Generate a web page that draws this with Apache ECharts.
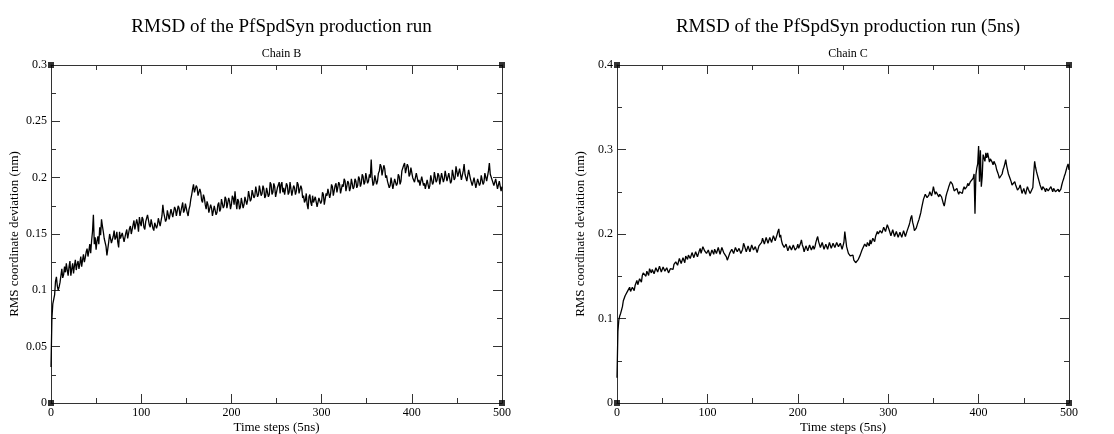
<!DOCTYPE html>
<html>
<head>
<meta charset="utf-8">
<script src="https://cdn.jsdelivr.net/npm/echarts@6/dist/echarts.min.js"></script>
<style>
  html, body { margin: 0; padding: 0; background: #fff; }
  #chart { width: 1114px; height: 434px; }
</style>
</head>
<body>
<div id="chart"></div>
<script>
// RMSD traces, one value per time step (t = 0, 1, ..., 500)
const timeStep = 1;
const timeMax = 500;

const chainB = [
  0.032, 0.075, 0.088, 0.092, 0.096, 0.108, 0.112, 0.104, 0.100, 0.103,
  0.107, 0.113, 0.119, 0.111, 0.114, 0.121, 0.116, 0.124, 0.118, 0.113,
  0.121, 0.126, 0.113, 0.119, 0.124, 0.115, 0.122, 0.127, 0.118, 0.123,
  0.126, 0.119, 0.124, 0.130, 0.121, 0.127, 0.132, 0.125, 0.129, 0.134,
  0.137, 0.130, 0.135, 0.141, 0.133, 0.144, 0.152, 0.167, 0.141, 0.147,
  0.136, 0.144, 0.148, 0.141, 0.156, 0.149, 0.163, 0.157, 0.152, 0.146,
  0.146, 0.139, 0.131, 0.137, 0.143, 0.150, 0.149, 0.142, 0.141, 0.148,
  0.153, 0.145, 0.147, 0.152, 0.143, 0.138, 0.152, 0.146, 0.145, 0.151,
  0.150, 0.143, 0.144, 0.151, 0.154, 0.146, 0.147, 0.155, 0.157, 0.150,
  0.150, 0.158, 0.162, 0.154, 0.155, 0.163, 0.159, 0.152, 0.165, 0.160,
  0.157, 0.165, 0.163, 0.156, 0.154, 0.161, 0.160, 0.167, 0.166, 0.158,
  0.156, 0.163, 0.162, 0.155, 0.153, 0.160, 0.161, 0.155, 0.158, 0.164,
  0.163, 0.157, 0.158, 0.166, 0.176, 0.169, 0.168, 0.161, 0.163, 0.171,
  0.170, 0.163, 0.164, 0.172, 0.171, 0.165, 0.166, 0.174, 0.172, 0.166,
  0.167, 0.175, 0.173, 0.166, 0.166, 0.174, 0.178, 0.169, 0.171, 0.177,
  0.176, 0.169, 0.166, 0.172, 0.175, 0.181, 0.185, 0.190, 0.194, 0.187,
  0.186, 0.193, 0.191, 0.184, 0.183, 0.190, 0.187, 0.180, 0.178, 0.185,
  0.182, 0.176, 0.172, 0.179, 0.176, 0.169, 0.168, 0.176, 0.173, 0.166,
  0.167, 0.175, 0.174, 0.167, 0.169, 0.176, 0.178, 0.170, 0.172, 0.181,
  0.180, 0.173, 0.175, 0.183, 0.181, 0.173, 0.174, 0.182, 0.179, 0.172,
  0.176, 0.184, 0.182, 0.176, 0.188, 0.179, 0.172, 0.181, 0.179, 0.172,
  0.174, 0.182, 0.181, 0.173, 0.176, 0.183, 0.184, 0.176, 0.180, 0.188,
  0.187, 0.179, 0.181, 0.189, 0.190, 0.182, 0.184, 0.192, 0.191, 0.183,
  0.185, 0.193, 0.192, 0.184, 0.186, 0.193, 0.190, 0.182, 0.184, 0.191,
  0.191, 0.183, 0.185, 0.196, 0.194, 0.185, 0.187, 0.195, 0.192, 0.183,
  0.183, 0.191, 0.190, 0.196, 0.186, 0.194, 0.196, 0.187, 0.191, 0.185,
  0.184, 0.195, 0.193, 0.185, 0.187, 0.196, 0.195, 0.184, 0.185, 0.193,
  0.191, 0.185, 0.188, 0.196, 0.194, 0.186, 0.186, 0.193, 0.190, 0.182,
  0.184, 0.178, 0.180, 0.186, 0.176, 0.172, 0.183, 0.185, 0.178, 0.175,
  0.184, 0.178, 0.177, 0.183, 0.182, 0.174, 0.175, 0.182, 0.183, 0.177,
  0.179, 0.187, 0.185, 0.176, 0.177, 0.186, 0.184, 0.190, 0.189, 0.182,
  0.186, 0.194, 0.192, 0.184, 0.185, 0.193, 0.195, 0.187, 0.188, 0.196,
  0.194, 0.186, 0.187, 0.194, 0.192, 0.199, 0.197, 0.188, 0.189, 0.197,
  0.195, 0.188, 0.191, 0.199, 0.198, 0.190, 0.192, 0.199, 0.197, 0.191,
  0.193, 0.201, 0.199, 0.192, 0.195, 0.203, 0.201, 0.194, 0.196, 0.204,
  0.203, 0.195, 0.197, 0.203, 0.200, 0.216, 0.200, 0.193, 0.195, 0.202,
  0.201, 0.194, 0.197, 0.204, 0.206, 0.212, 0.210, 0.202, 0.203, 0.211,
  0.208, 0.200, 0.202, 0.197, 0.198, 0.191, 0.193, 0.200, 0.199, 0.190,
  0.191, 0.199, 0.198, 0.193, 0.195, 0.203, 0.201, 0.194, 0.197, 0.206,
  0.206, 0.211, 0.213, 0.204, 0.205, 0.212, 0.210, 0.201, 0.203, 0.209,
  0.208, 0.200, 0.201, 0.196, 0.196, 0.204, 0.203, 0.196, 0.198, 0.193,
  0.192, 0.201, 0.200, 0.193, 0.195, 0.190, 0.189, 0.198, 0.197, 0.190,
  0.193, 0.202, 0.201, 0.194, 0.196, 0.205, 0.204, 0.196, 0.198, 0.204,
  0.202, 0.194, 0.195, 0.204, 0.203, 0.196, 0.199, 0.206, 0.205, 0.197,
  0.198, 0.204, 0.203, 0.195, 0.197, 0.207, 0.206, 0.198, 0.200, 0.210,
  0.211, 0.201, 0.202, 0.208, 0.207, 0.198, 0.199, 0.206, 0.212, 0.203,
  0.203, 0.197, 0.198, 0.207, 0.206, 0.199, 0.200, 0.193, 0.194, 0.200,
  0.199, 0.191, 0.192, 0.199, 0.198, 0.193, 0.195, 0.202, 0.201, 0.194,
  0.196, 0.204, 0.203, 0.197, 0.198, 0.206, 0.213, 0.203, 0.204, 0.198,
  0.199, 0.193, 0.194, 0.199, 0.198, 0.190, 0.189, 0.197, 0.196, 0.188,
  0.192
];

const chainC = [
  0.030, 0.085, 0.098, 0.103, 0.106, 0.110, 0.114, 0.121, 0.123, 0.127,
  0.129, 0.126, 0.133, 0.135, 0.137, 0.132, 0.131, 0.137, 0.136, 0.133,
  0.139, 0.142, 0.145, 0.140, 0.141, 0.147, 0.147, 0.143, 0.151, 0.154,
  0.156, 0.152, 0.150, 0.156, 0.155, 0.151, 0.159, 0.157, 0.154, 0.158,
  0.158, 0.153, 0.154, 0.160, 0.160, 0.155, 0.155, 0.162, 0.161, 0.155,
  0.157, 0.161, 0.162, 0.156, 0.156, 0.160, 0.160, 0.154, 0.155, 0.159,
  0.161, 0.157, 0.158, 0.164, 0.164, 0.167, 0.168, 0.163, 0.165, 0.171,
  0.171, 0.165, 0.167, 0.172, 0.170, 0.166, 0.174, 0.172, 0.170, 0.175,
  0.176, 0.171, 0.172, 0.178, 0.177, 0.172, 0.173, 0.179, 0.178, 0.173,
  0.175, 0.180, 0.183, 0.177, 0.179, 0.185, 0.186, 0.180, 0.181, 0.177,
  0.176, 0.181, 0.180, 0.174, 0.175, 0.181, 0.179, 0.176, 0.182, 0.183,
  0.177, 0.178, 0.184, 0.182, 0.176, 0.178, 0.184, 0.183, 0.178, 0.180,
  0.176, 0.173, 0.169, 0.172, 0.173, 0.178, 0.179, 0.182, 0.183, 0.177,
  0.178, 0.184, 0.184, 0.179, 0.180, 0.183, 0.182, 0.177, 0.178, 0.182,
  0.189, 0.186, 0.184, 0.179, 0.181, 0.186, 0.185, 0.179, 0.180, 0.187,
  0.186, 0.181, 0.182, 0.185, 0.184, 0.178, 0.179, 0.186, 0.185, 0.188,
  0.190, 0.195, 0.194, 0.188, 0.189, 0.196, 0.195, 0.189, 0.191, 0.196,
  0.196, 0.190, 0.192, 0.198, 0.197, 0.192, 0.194, 0.199, 0.203, 0.206,
  0.196, 0.199, 0.192, 0.188, 0.187, 0.184, 0.183, 0.188, 0.186, 0.180,
  0.181, 0.186, 0.185, 0.181, 0.182, 0.187, 0.186, 0.181, 0.183, 0.184,
  0.188, 0.183, 0.182, 0.189, 0.193, 0.187, 0.184, 0.179, 0.180, 0.186,
  0.185, 0.180, 0.181, 0.187, 0.186, 0.181, 0.182, 0.186, 0.182, 0.185,
  0.190, 0.194, 0.197, 0.191, 0.189, 0.184, 0.185, 0.190, 0.188, 0.182,
  0.183, 0.188, 0.187, 0.182, 0.184, 0.190, 0.189, 0.183, 0.185, 0.189,
  0.189, 0.184, 0.184, 0.190, 0.190, 0.185, 0.186, 0.189, 0.188, 0.182,
  0.183, 0.190, 0.203, 0.194, 0.185, 0.181, 0.177, 0.179, 0.174, 0.173,
  0.172, 0.175, 0.169, 0.168, 0.166, 0.165, 0.167, 0.170, 0.170, 0.175,
  0.176, 0.181, 0.183, 0.179, 0.188, 0.186, 0.185, 0.190, 0.191, 0.186,
  0.193, 0.188, 0.189, 0.195, 0.194, 0.191, 0.197, 0.196, 0.203, 0.200,
  0.199, 0.204, 0.206, 0.201, 0.202, 0.208, 0.209, 0.203, 0.204, 0.211,
  0.211, 0.205, 0.203, 0.198, 0.199, 0.205, 0.204, 0.197, 0.198, 0.203,
  0.202, 0.196, 0.197, 0.202, 0.201, 0.196, 0.197, 0.204, 0.203, 0.197,
  0.199, 0.204, 0.206, 0.210, 0.214, 0.219, 0.222, 0.214, 0.210, 0.204,
  0.203, 0.207, 0.209, 0.214, 0.217, 0.221, 0.225, 0.231, 0.236, 0.241,
  0.243, 0.247, 0.248, 0.243, 0.241, 0.246, 0.250, 0.248, 0.245, 0.250,
  0.256, 0.251, 0.247, 0.250, 0.252, 0.248, 0.244, 0.247, 0.248, 0.244,
  0.240, 0.236, 0.233, 0.239, 0.245, 0.249, 0.252, 0.256, 0.258, 0.262,
  0.264, 0.259, 0.255, 0.251, 0.249, 0.252, 0.254, 0.250, 0.247, 0.250,
  0.252, 0.249, 0.248, 0.253, 0.256, 0.253, 0.251, 0.256, 0.260, 0.257,
  0.258, 0.262, 0.264, 0.261, 0.266, 0.271, 0.224, 0.270, 0.278, 0.283,
  0.304, 0.262, 0.299, 0.256, 0.268, 0.294, 0.292, 0.286, 0.296, 0.290,
  0.296, 0.291, 0.285, 0.289, 0.291, 0.285, 0.282, 0.286, 0.287, 0.281,
  0.276, 0.273, 0.270, 0.266, 0.264, 0.268, 0.271, 0.276, 0.279, 0.283,
  0.288, 0.281, 0.276, 0.271, 0.268, 0.265, 0.262, 0.258, 0.256, 0.260,
  0.262, 0.258, 0.255, 0.252, 0.250, 0.255, 0.258, 0.253, 0.248, 0.251,
  0.254, 0.250, 0.247, 0.252, 0.256, 0.253, 0.251, 0.248, 0.246, 0.250,
  0.255, 0.272, 0.286, 0.279, 0.274, 0.270, 0.266, 0.262, 0.258, 0.255,
  0.252, 0.256, 0.257, 0.253, 0.250, 0.254, 0.255, 0.251, 0.249, 0.253,
  0.256, 0.253, 0.250, 0.254, 0.254, 0.250, 0.248, 0.252, 0.253, 0.250,
  0.249, 0.253, 0.258, 0.262, 0.265, 0.269, 0.272, 0.276, 0.280, 0.283,
  0.276
];

const panels = [
  { title: 'RMSD of the PfSpdSyn production run', sub: 'Chain B', values: chainB, yMax: 0.3, yStep: 0.05 },
  { title: 'RMSD of the PfSpdSyn production run (5ns)', sub: 'Chain C', values: chainC, yMax: 0.4, yStep: 0.1 }
];
const xStep = 100;
const xName = 'Time steps (5ns)';
const yName = 'RMS coordinate deviation (nm)';

const FONT = 'Liberation Serif, Times New Roman, serif';
const AXIS_COLOR = '#333';
const grids = [
  { left: 51, top: 65, width: 451, height: 338, containLabel: false, outerBoundsMode: 'none' },
  { left: 617, top: 65, width: 452, height: 338, containLabel: false, outerBoundsMode: 'none' }
];

const option = {
  animation: false,
  backgroundColor: '#fff',
  title: [],
  grid: grids,
  xAxis: [],
  yAxis: [],
  series: []
};

panels.forEach((p, g) => {
  const cx = grids[g].left + grids[g].width / 2;
  option.title.push({
    text: p.title, left: cx, top: 13, textAlign: 'center',
    textStyle: { fontFamily: FONT, fontSize: 19, fontWeight: 'normal', color: '#000' }
  });
  option.title.push({
    text: p.sub, left: cx, top: 43, textAlign: 'center',
    textStyle: { fontFamily: FONT, fontSize: 12, fontWeight: 'normal', color: '#000' }
  });

  const tickCommon = {
    axisLine: { show: true, onZero: false, lineStyle: { color: AXIS_COLOR, width: 1 } },
    axisTick: { show: true, inside: true, length: 9, lineStyle: { color: AXIS_COLOR } },
    minorTick: { show: true, splitNumber: 2, length: 5, lineStyle: { color: AXIS_COLOR } },
    splitLine: { show: false }
  };

  // bottom / top x axes
  option.xAxis.push(Object.assign({
    type: 'value', gridIndex: g, position: 'bottom', min: 0, max: timeMax, interval: xStep,
    name: xName, nameLocation: 'middle', nameGap: 18, nameMoveOverlap: false,
    nameTextStyle: { fontFamily: FONT, fontSize: 13, color: '#000' },
    axisLabel: { fontFamily: FONT, fontSize: 12, color: '#000', margin: 4 }
  }, tickCommon));
  option.xAxis.push(Object.assign({
    type: 'value', gridIndex: g, position: 'top', min: 0, max: timeMax, interval: xStep,
    axisLabel: { show: false }
  }, tickCommon));

  // left / right y axes
  option.yAxis.push(Object.assign({
    type: 'value', gridIndex: g, position: 'left', min: 0, max: p.yMax, interval: p.yStep,
    name: yName, nameLocation: 'middle', nameGap: 30, nameMoveOverlap: false,
    nameTextStyle: { fontFamily: FONT, fontSize: 13, color: '#000' },
    axisLabel: { fontFamily: FONT, fontSize: 12, color: '#000', margin: 4 }
  }, tickCommon));
  option.yAxis.push(Object.assign({
    type: 'value', gridIndex: g, position: 'right', min: 0, max: p.yMax, interval: p.yStep,
    axisLabel: { show: false }
  }, tickCommon));

  option.series.push({
    type: 'line',
    xAxisIndex: g * 2, yAxisIndex: g * 2,
    data: p.values.map((v, i) => [i * timeStep, v]),
    showSymbol: false, symbol: 'none',
    lineStyle: { color: '#000', width: 1.3 },
    silent: true
  });

  // corner handles of the frame
  option.series.push({
    type: 'scatter',
    xAxisIndex: g * 2, yAxisIndex: g * 2,
    data: [[0, 0], [timeMax, 0], [0, p.yMax], [timeMax, p.yMax]],
    symbol: 'rect', symbolSize: 6, clip: false,
    itemStyle: { color: '#000' },
    silent: true
  });
});

const chart = echarts.init(document.getElementById('chart'), null, { renderer: 'canvas' });
chart.setOption(option);
</script>
</body>
</html>
